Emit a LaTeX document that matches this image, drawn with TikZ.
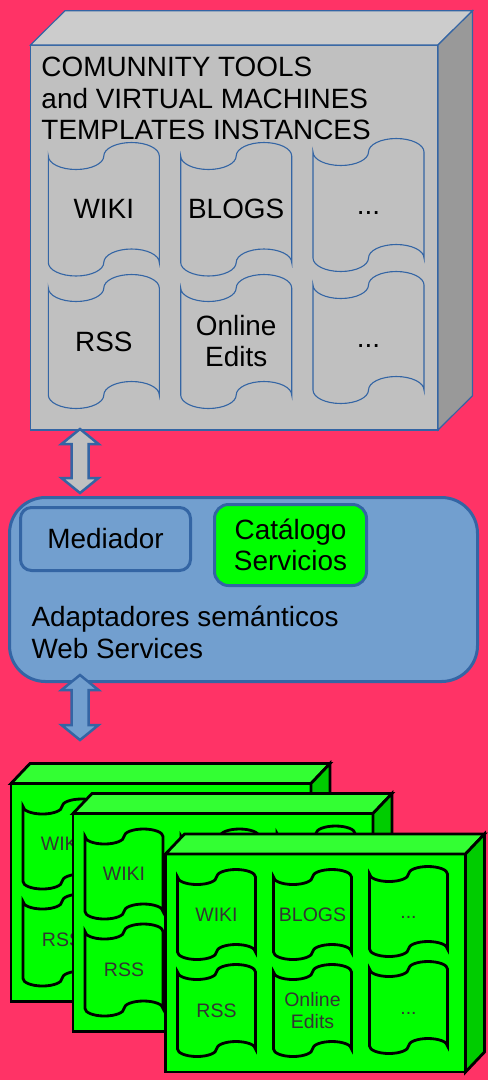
\documentclass[tikz,border=0pt]{standalone}
\usepackage{fontspec}
\setmainfont{Liberation Sans}
\usetikzlibrary{calc}
\definecolor{bgpink}{HTML}{FF3366}
\definecolor{lblue}{HTML}{729FCF}
\definecolor{dblue}{HTML}{3465A4}
\definecolor{gfrontc}{HTML}{C0C0C0}
\definecolor{gtopc}{HTML}{CCCCCC}
\definecolor{gsidec}{HTML}{999999}
\definecolor{vfront}{HTML}{00FF00}
\definecolor{vtop}{HTML}{33FF33}
\definecolor{vside}{HTML}{00CC00}
\definecolor{gtext}{HTML}{333333}
\tikzset{
  every node/.style={inner sep=0pt, outer sep=0pt},
  bigfont/.style={font=\fontsize{27.9}{31}\selectfont},
  smallfont/.style={font=\fontsize{19.5}{22}\selectfont, text=gtext},
  greyface/.style={draw=dblue, line width=1.2pt, line join=miter},
  ttape/.style={draw=dblue, fill=gfrontc, line width=1.1pt},
  ttext/.style={bigfont, align=center},
  gface/.style={draw=black, line width=2.8pt, line join=miter},
  gtape/.style={draw=black, fill=vfront, line width=2.8pt},
  gtxt/.style={smallfont, align=center},
  arrowline/.style={draw=dblue, line width=2.5pt, line join=miter},
  boxline/.style={draw=dblue, line width=3pt},
}
\newcommand\tape[9]{%
  \pgfmathsetmacro\tpW{#4}%
  \pgfmathsetmacro\tpH{#5}%
  \pgfmathsetmacro\tpA{#6}%
  \pgfmathsetmacro\tpQ{\tpW/4}%
  \pgfmathsetmacro\tpK{0.5523*\tpQ}%
  \pgfmathsetmacro\tpKA{0.5523*\tpA}%
  \pgfmathsetmacro\tpX{#2-\tpW/2}%
  \pgfmathsetmacro\tpY{#3-\tpH/2}%
  \path[#7, shift={(\tpX,\tpY)}] (0,0)
    .. controls (0,\tpKA) and ({\tpQ-\tpK},\tpA) .. (\tpQ,\tpA)
    .. controls ({\tpQ+\tpK},\tpA) and ({2*\tpQ},\tpKA) .. ({2*\tpQ},0)
    .. controls ({2*\tpQ},-\tpKA) and ({3*\tpQ-\tpK},-\tpA) .. ({3*\tpQ},-\tpA)
    .. controls ({3*\tpQ+\tpK},-\tpA) and (\tpW,-\tpKA) .. (\tpW,0)
    -- (\tpW,\tpH)
    .. controls (\tpW,{\tpH-\tpKA}) and ({3*\tpQ+\tpK},{\tpH-\tpA}) .. ({3*\tpQ},{\tpH-\tpA})
    .. controls ({3*\tpQ-\tpK},{\tpH-\tpA}) and ({2*\tpQ},{\tpH-\tpKA}) .. ({2*\tpQ},\tpH)
    .. controls ({2*\tpQ},{\tpH+\tpKA}) and ({\tpQ+\tpK},{\tpH+\tpA}) .. (\tpQ,{\tpH+\tpA})
    .. controls ({\tpQ-\tpK},{\tpH+\tpA}) and (0,{\tpH+\tpKA}) .. (0,\tpH) -- cycle;
  \node[#8, minimum width=\tpW, minimum height=\tpH] (#1) at (#2,#3) {#9};
}
\newcommand\blockarrow[3]{%
  \begin{scope}[shift={(#1)}]
    \path[arrowline, fill=#3] (0,0) -- (18.5,15) -- (8.5,15) -- (8.5,{#2-15})
      -- (18.5,{#2-15}) -- (0,#2) -- (-18.5,{#2-15}) -- (-8.5,{#2-15})
      -- (-8.5,15) -- (-18.5,15) -- cycle;
  \end{scope}}
\newcommand\greencube[3]{%
  \node[gface, fill=vfront, minimum width=300, minimum height=218, anchor=north west] (#1) at (#2,#3) {};
  \path[gface, fill=vtop] (#1.north west) -- ++(19,-20) -- ($(#1.north east)+(19,-20)$) -- (#1.north east) -- cycle;
  \path[gface, fill=vside] (#1.north east) -- ++(19,-20) -- ($(#1.south east)+(19,-20)$) -- (#1.south east) -- cycle;
  \tape{#1-wiki}{#2+51}{#3+60.5}{78}{75}{7.5}{gtape}{gtxt}{WIKI}
  \tape{#1-blogs}{#2+147}{#3+60.5}{78}{75}{7.5}{gtape}{gtxt}{BLOGS}
  \tape{#1-more1}{#2+243}{#3+57.5}{78}{75}{7.5}{gtape}{gtxt}{\vphantom{I}...}
  \tape{#1-rss}{#2+51}{#3+156.5}{78}{77}{7.5}{gtape}{gtxt}{RSS}
  \tape{#1-edits}{#2+147}{#3+156.5}{78}{77}{7.5}{gtape}{gtxt}{Online\\Edits}
  \tape{#1-more2}{#2+243}{#3+153.5}{78}{77}{7.5}{gtape}{gtxt}{\vphantom{I}...}
}
\begin{document}
\begin{tikzpicture}[x=1pt, y=-1pt]
\useasboundingbox (0,0) rectangle (488,1080);
\fill[bgpink] (0,0) rectangle (488,1080);

% top grey cube
\node[greyface, fill=gfrontc, minimum width=407.5, minimum height=385] (tools) at (234.25,237.5) {};
\path[greyface, fill=gtopc] (tools.north west) -- ++(34.5,-34.3) -- ($(tools.north east)+(34.5,-34.3)$) -- (tools.north east) -- cycle;
\path[greyface, fill=gsidec] (tools.north east) -- ++(34.5,-34.3) -- ($(tools.south east)+(34.5,-34.3)$) -- (tools.south east) -- cycle;
\node[bigfont, anchor=base west] (t1) at (41.5,76.5) {COMUNNITY TOOLS};
\node[bigfont, anchor=base west] (t2) at (41.5,108) {and VIRTUAL MACHINES};
\node[bigfont, anchor=base west] (t3) at (41.5,139) {TEMPLATES INSTANCES};
\tape{wiki}{103.8}{209.25}{111}{106.5}{13.5}{ttape}{ttext}{WIKI}
\tape{blogs}{236.2}{209.25}{111}{106.5}{13.5}{ttape}{ttext}{BLOGS}
\tape{more1}{368.5}{205}{111}{106}{13.5}{ttape}{ttext}{\vphantom{I}...}
\tape{rss}{103.8}{341.5}{111}{107}{13.5}{ttape}{ttext}{RSS}
\tape{edits}{236.2}{341.5}{111}{107}{13.5}{ttape}{ttext}{Online\\Edits}
\tape{more2}{368.5}{337.5}{111}{105}{13.5}{ttape}{ttext}{\vphantom{I}...}

% middle box
\node[boxline, fill=lblue, rounded corners=36, minimum width=468, minimum height=184] (mw) at (243.5,589.5) {};
\node[boxline, fill=lblue, rounded corners=11, minimum width=170, minimum height=63, bigfont] (med) at (105.5,539) {Mediador};
\node[boxline, fill=vfront, rounded corners=14, minimum width=152, minimum height=81, bigfont, align=center] (cat) at (290.5,545) {Catálogo\\Servicios};
\node[bigfont, anchor=base west] (ad1) at (31.5,626.7) {Adaptadores semánticos};
\node[bigfont, anchor=base west] (ad2) at (31.5,658.3) {Web Services};

% green cubes
\greencube{cA}{11}{783.5}
\greencube{cB}{73}{813.5}
\greencube{cC}{165.5}{854}

% connectors
\coordinate (a1) at ($(tools.south west)+(49.5,-1)$);
\coordinate (a2) at ($(mw.south west)+(70.5,-6.5)$);
\blockarrow{a1}{64}{gfrontc}
\blockarrow{a2}{65}{lblue}
\end{tikzpicture}
\end{document}
